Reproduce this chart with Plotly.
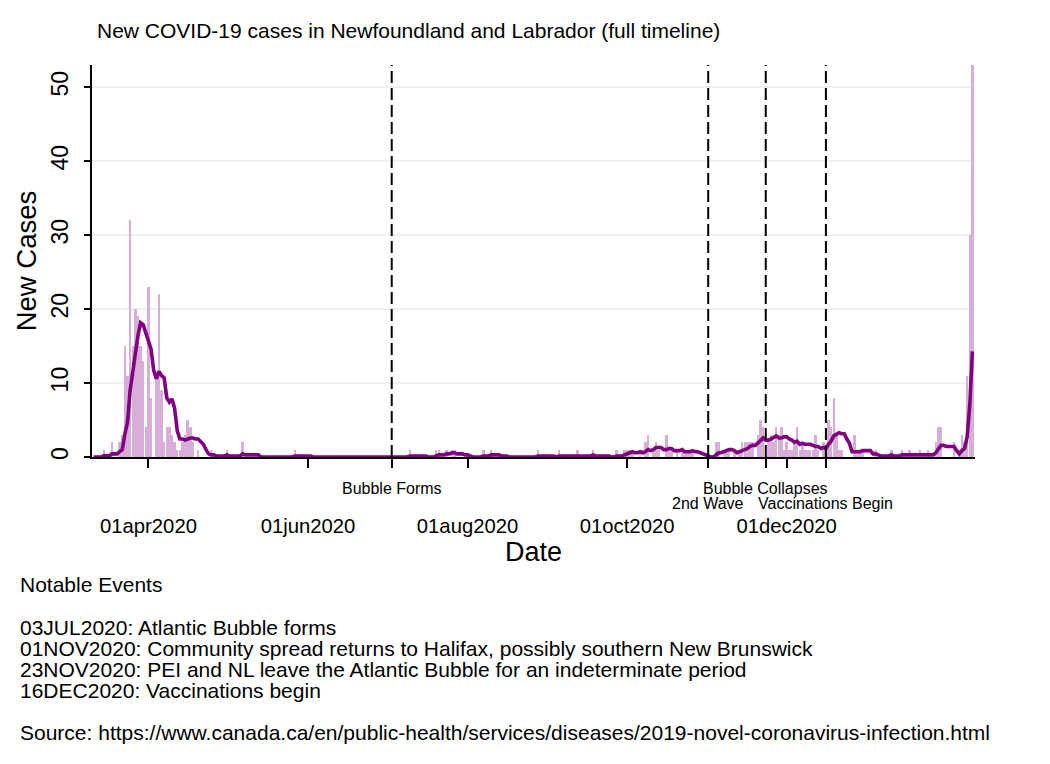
import pandas as pd
import plotly.graph_objects as go

# ---------------- data ----------------
case_dates = [
    "2020-03-15", "2020-03-18", "2020-03-21", "2020-03-22", "2020-03-23", "2020-03-24",
    "2020-03-25", "2020-03-26", "2020-03-27", "2020-03-28", "2020-03-29", "2020-03-30",
    "2020-03-31", "2020-04-01", "2020-04-02", "2020-04-04", "2020-04-05", "2020-04-06",
    "2020-04-07", "2020-04-08", "2020-04-09", "2020-04-10", "2020-04-11", "2020-04-12",
    "2020-04-13", "2020-04-14", "2020-04-15", "2020-04-16", "2020-04-17", "2020-04-18",
    "2020-04-20", "2020-04-25", "2020-05-01", "2020-05-07", "2020-05-27",
    "2020-07-10", "2020-07-20", "2020-07-21", "2020-07-24", "2020-07-26", "2020-07-27",
    "2020-08-07", "2020-08-10", "2020-08-28",
    "2020-09-05", "2020-09-12", "2020-09-18", "2020-09-27", "2020-09-30",
    "2020-10-01", "2020-10-02", "2020-10-03", "2020-10-06", "2020-10-08", "2020-10-09",
    "2020-10-11", "2020-10-12", "2020-10-13", "2020-10-16", "2020-10-17", "2020-10-18",
    "2020-10-20", "2020-10-22", "2020-10-23", "2020-10-24", "2020-10-25", "2020-10-26",
    "2020-11-04", "2020-11-05", "2020-11-07", "2020-11-08", "2020-11-09", "2020-11-11",
    "2020-11-13", "2020-11-14", "2020-11-15", "2020-11-16", "2020-11-17", "2020-11-18",
    "2020-11-20", "2020-11-21", "2020-11-22", "2020-11-24", "2020-11-25", "2020-11-26",
    "2020-11-27", "2020-11-28", "2020-11-29", "2020-11-30",
    "2020-12-01", "2020-12-02", "2020-12-03", "2020-12-04", "2020-12-05", "2020-12-06",
    "2020-12-07", "2020-12-08", "2020-12-09", "2020-12-10", "2020-12-11", "2020-12-12",
    "2020-12-13", "2020-12-15", "2020-12-17", "2020-12-18", "2020-12-19", "2020-12-20",
    "2020-12-21", "2020-12-22", "2020-12-27", "2020-12-28", "2020-12-29", "2020-12-30",
    "2021-01-04", "2021-01-10", "2021-01-14", "2021-01-17", "2021-01-21", "2021-01-24",
    "2021-01-27", "2021-01-28", "2021-01-29",
    "2021-02-03", "2021-02-05", "2021-02-06", "2021-02-07", "2021-02-08", "2021-02-09",
    "2021-02-10",
]
case_counts = [
    1, 2, 2, 3, 15, 11,
    32, 15, 20, 19, 15, 13,
    4, 23, 8, 11, 22, 9,
    2, 4, 4, 3, 2, 1,
    1, 2, 3, 5, 4, 2,
    1, 1, 1, 2, 1,
    1, 1, 1, 1, 1, 1,
    1, 1, 1,
    1, 1, 1, 1, 1,
    1, 1, 1, 1, 2, 3,
    1, 2, 1, 3, 1, 1,
    1, 1, 1, 1, 1, 1,
    2, 2, 1, 1, 1, 1,
    1, 2, 2, 2, 2, 2,
    3, 5, 4, 2, 3, 2,
    4, 3, 4, 1,
    2, 1, 1, 2, 4, 1,
    2, 1, 1, 1, 1, 3,
    1, 2, 5, 4, 8, 3,
    1, 1, 3, 1, 1, 1,
    1, 1, 1, 1, 1, 1,
    2, 4, 4,
    2, 1, 3, 2, 11, 30,
    53,
]
series_start = "2020-03-11"
series_end = "2021-02-10"

month_ticks = ["2020-04-01", "2020-06-01", "2020-08-01", "2020-10-01", "2020-12-01"]
month_labels = ["01apr2020", "01jun2020", "01aug2020", "01oct2020", "01dec2020"]

event_dates = ["2020-07-03", "2020-11-01", "2020-11-23", "2020-12-16"]
event_labels = ["Bubble Forms", "2nd Wave", "Bubble Collapses", "Vaccinations Begin"]

y_ticks = [0, 10, 20, 30, 40, 50]

title_text = "New COVID-19 cases in Newfoundland and Labrador (full timeline)"
note_lines = [
    "Notable Events",
    "03JUL2020: Atlantic Bubble forms",
    "01NOV2020: Community spread returns to Halifax, possibly southern New Brunswick",
    "23NOV2020: PEI and NL leave the Atlantic Bubble for an indeterminate period",
    "16DEC2020: Vaccinations begin",
    "Source: https://www.canada.ca/en/public-health/services/diseases/2019-novel-coronavirus-infection.html",
]

# ---------------- build daily series ----------------
days = pd.date_range(series_start, series_end, freq="D")
daily = pd.Series(case_counts, index=pd.to_datetime(case_dates)).reindex(days, fill_value=0)
avg7 = daily.rolling(7, min_periods=1).mean()

# ---------------- layout geometry ----------------
W, H = 1050, 764
L, R, T, B = 92, 975, 65, 457
PW, PH = R - L, B - T


def px_x(x):
    return (x - L) / PW


def px_y(y):
    return (B - y) / PH


FONT = "Arial, Liberation Sans, sans-serif"
BAR_COLOR = "rgb(215,174,215)"
LINE_COLOR = "rgb(128,0,128)"
GRID_COLOR = "rgb(234,242,243)"

fig = go.Figure()
fig.add_trace(go.Bar(
    x=daily.index, y=daily.values,
    marker=dict(color=BAR_COLOR, line=dict(width=0)),
    width=86400000 * 0.95,
    name="New cases",
))
fig.add_trace(go.Scatter(
    x=avg7.index, y=avg7.values, mode="lines",
    line=dict(color=LINE_COLOR, width=3.6),
    name="7-day average",
))

# dashed event lines
for d in event_dates:
    fig.add_shape(type="line", xref="x", yref="paper", x0=d, x1=d, y0=0, y1=1,
                  line=dict(color="black", width=2, dash="12px,5px"), layer="above")

# event labels (two rows, as in the reference)
event_rows = [488, 503, 488, 503]
for d, lab, yy in zip(event_dates, event_labels, event_rows):
    fig.add_annotation(x=d, xref="x", y=px_y(yy), yref="paper", text=lab,
                       showarrow=False, xanchor="center", yanchor="middle",
                       font=dict(family=FONT, size=16, color="black"))

# notes
note_y = [584, 627, 648, 669, 690, 732]
for line, yy in zip(note_lines, note_y):
    fig.add_annotation(x=px_x(18), xref="paper", y=px_y(yy), yref="paper", text=line,
                       showarrow=False, xanchor="left", yanchor="middle",
                       font=dict(family=FONT, size=21, color="black"))

tickvals = month_ticks + event_dates
ticktext = month_labels + [""] * len(event_dates)

fig.update_layout(
    width=W, height=H,
    margin=dict(l=L, r=W - R, t=T, b=H - B, autoexpand=False),
    paper_bgcolor="white", plot_bgcolor="white",
    showlegend=False,
    bargap=0,
    font=dict(family=FONT, color="black"),
    title=dict(text=title_text, xref="container", yref="container",
               x=97 / W, y=1 - 31 / H, xanchor="left", yanchor="middle",
               font=dict(family=FONT, size=21, color="black")),
    xaxis=dict(
        type="date",
        range=["2020-03-10 10:00", "2021-02-11 00:00"],
        tickvals=tickvals, ticktext=ticktext,
        ticks="outside", ticklen=9, tickwidth=1.5, tickcolor="black",
        ticklabelstandoff=41,
        tickfont=dict(family=FONT, size=20.3),
        showline=True, linecolor="black", linewidth=1.5,
        showgrid=False, zeroline=False,
        title=dict(text="Date", font=dict(family=FONT, size=27), standoff=0),
    ),
    yaxis=dict(
        range=[0, 53],
        tickvals=y_ticks,
        ticks="outside", ticklen=6, tickwidth=1.5, tickcolor="black",
        tickangle=-90,
        ticklabelstandoff=7,
        tickfont=dict(family=FONT, size=23),
        showline=True, linecolor="black", linewidth=1.5,
        showgrid=True, gridcolor=GRID_COLOR, gridwidth=2,
        zeroline=False,
        title=dict(text="New Cases", font=dict(family=FONT, size=27.5), standoff=2),
    ),
)

fig.write_html("out.html",
               config={"displayModeBar": False},
               post_script="document.body.style.margin='0';document.body.style.padding='0';")
